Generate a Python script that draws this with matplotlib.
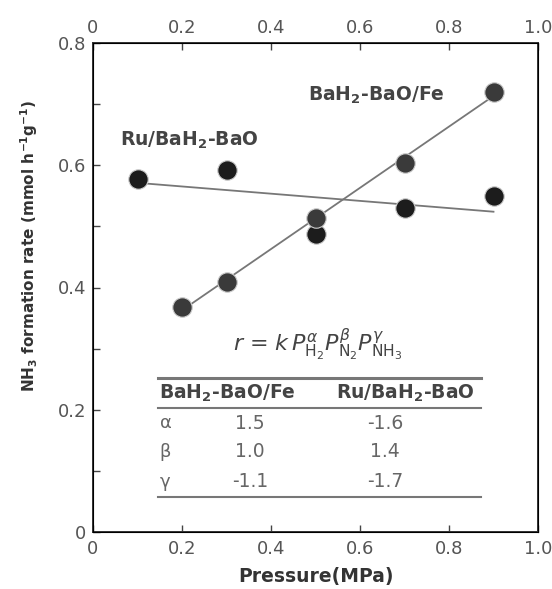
import numpy as np
import matplotlib
matplotlib.use("Agg")
import matplotlib.pyplot as plt
from matplotlib.ticker import MultipleLocator

plt.rcParams['font.family'] = ['DejaVu Sans']
plt.rcParams['mathtext.fontset'] = 'dejavusans'

# data
fe_p = [0.2, 0.3, 0.5, 0.7, 0.9]
fe_rate = [0.368, 0.409, 0.514, 0.604, 0.720]
ru_p = [0.1, 0.3, 0.5, 0.7, 0.9]
ru_rate = [0.578, 0.592, 0.488, 0.530, 0.550]

xticks = [0, 0.2, 0.4, 0.6, 0.8, 1.0]
xlabels = ["0", "0.2", "0.4", "0.6", "0.8", "1.0"]
yticks = [0, 0.2, 0.4, 0.6, 0.8]
ylabels = ["0", "0.2", "0.4", "0.6", "0.8"]

tab_header = ["BaH$_\\mathbf{2}$-BaO/Fe", "Ru/BaH$_\\mathbf{2}$-BaO"]
tab_rows = ["\u03b1", "\u03b2", "\u03b3"]
tab_fe = ["1.5", "1.0", "-1.1"]
tab_ru = ["-1.6", "1.4", "-1.7"]

fig = plt.figure(figsize=(5.52, 5.89), dpi=100)
ax = fig.add_axes([93 / 552, 1 - 532 / 589, 445 / 552, 489 / 589])

tick_col = "#555555"
line_col = "#777777"
txt_col = "#444444"

# fitted lines
for xs, ys in [(fe_p, fe_rate), (ru_p, ru_rate)]:
    k, b = np.polyfit(xs, ys, 1)
    xx = np.array([min(xs), max(xs)])
    ax.plot(xx, k * xx + b, color=line_col, lw=1.3, zorder=2)

ax.plot(ru_p, ru_rate, 'o', ms=14, color="#1c1c1c", mec="#cccccc", mew=0.8, zorder=3)
ax.plot(fe_p, fe_rate, 'o', ms=14, color="#3a3a3a", mec="#cccccc", mew=0.8, zorder=4)

ax.set_xlim(0, 1.0)
ax.set_ylim(0, 0.8)
ax.set_xticks(xticks)
ax.set_xticklabels(xlabels)
ax.set_yticks(yticks)
ax.set_yticklabels(ylabels)
ax.yaxis.set_minor_locator(MultipleLocator(0.1))
ax.tick_params(axis='both', which='both', direction='in', length=5, width=1,
               colors="#444444", labelcolor=tick_col, labelsize=13, pad=6)
ax.tick_params(axis='y', which='both', right=False, pad=5)
for s in ax.spines.values():
    s.set_linewidth(1.4)
    s.set_color("#333333")

ax2 = ax.twiny()
ax2.set_xlim(0, 1.0)
ax2.set_xticks(xticks)
ax2.set_xticklabels(xlabels)
ax2.tick_params(axis='x', direction='in', length=5, width=1,
                colors="#444444", labelcolor=tick_col, labelsize=13, pad=4)

ax.set_xlabel("Pressure(MPa)", fontsize=13.5, fontweight='bold', color="#333333", labelpad=6)
ax.set_ylabel("NH$_\\mathbf{3}$ formation rate (mmol h$^{\\mathbf{-1}}$g$^{\\mathbf{-1}}$)",
              fontsize=11, fontweight='bold', color="#333333")
ax.yaxis.set_label_coords(-0.12, 0.585)

ax.text(0.483, 0.715, "BaH$_\\mathbf{2}$-BaO/Fe", fontsize=13.5, fontweight='bold',
        color=txt_col, va='center', ha='left')
ax.text(0.061, 0.64, "Ru/BaH$_\\mathbf{2}$-BaO", fontsize=13.5, fontweight='bold',
        color=txt_col, va='center', ha='left')

ax.text(0.505, 0.306,
        "$r$ = $k\\,P_{\\mathrm{H_2}}^{\\alpha}P_{\\mathrm{N_2}}^{\\beta}P_{\\mathrm{NH_3}}^{\\gamma}$",
        fontsize=16, color=txt_col, ha='center', va='center')

# table
x0, x1 = 0.146, 0.873
ax.plot([x0, x1], [0.252, 0.252], color=line_col, lw=2.2)
ax.plot([x0, x1], [0.203, 0.203], color=line_col, lw=1.5)
ax.plot([x0, x1], [0.057, 0.057], color=line_col, lw=1.5)
ax.text(0.148, 0.227, tab_header[0], fontsize=13.5, fontweight='bold', color=txt_col, va='center')
ax.text(0.545, 0.227, tab_header[1], fontsize=13.5, fontweight='bold', color=txt_col, va='center')
row_y = [0.178, 0.131, 0.082]
for lab, a, b, yy in zip(tab_rows, tab_fe, tab_ru, row_y):
    ax.text(0.15, yy, lab, fontsize=13, color="#666666", va='center')
    ax.text(0.353, yy, a, fontsize=13.5, color="#666666", va='center', ha='center')
    ax.text(0.656, yy, b, fontsize=13.5, color="#666666", va='center', ha='center')

fig.savefig("out.png", dpi=100)
